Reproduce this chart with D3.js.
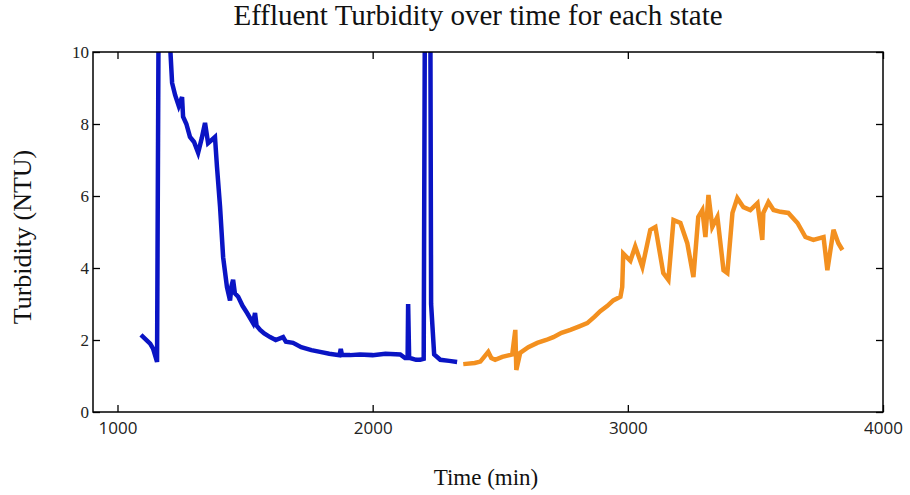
<!DOCTYPE html>
<html><head><meta charset="utf-8">
<script src="https://cdn.jsdelivr.net/npm/d3@7"></script>
<style>body{margin:0;background:#fff;} svg{display:block;}</style>
</head><body>
<script>
const title = "Effluent Turbidity over time for each state";
const xLabel = "Time (min)";
const yLabel = "Turbidity (NTU)";
const xTicks = [1000, 2000, 3000, 4000];
const yTicks = [0, 2, 4, 6, 8, 10];

const blueTime = [1092,1128,1140,1155,1163,1186,1206,1214,1226,1240,1253,1257,1270,1284,1300,1316,1330,1343,1355,1368,1382,1390,1402,1414,1429,1441,1447,1453,1460,1473,1490,1508,1531,1539,1545,1559,1575,1598,1620,1649,1660,1688,1720,1760,1794,1830,1870,1875,1880,1912,1950,2000,2050,2108,2127,2137,2139,2143,2147,2170,2186,2200,2206,2225,2229,2241,2265,2300,2331];
const blueTurb = [2.14,1.9,1.75,1.39,14,14,10.2,9.14,8.8,8.5,8.75,8.2,8.0,7.64,7.5,7.2,7.6,8.03,7.47,7.55,7.64,6.8,5.69,4.3,3.47,3.1,3.5,3.67,3.3,3.2,2.95,2.75,2.47,2.75,2.4,2.28,2.18,2.08,2.0,2.08,1.95,1.92,1.8,1.72,1.67,1.62,1.58,1.75,1.58,1.58,1.6,1.58,1.62,1.6,1.5,1.5,3.0,1.5,1.5,1.45,1.45,1.48,14,14,3.0,1.6,1.45,1.42,1.39];

const orangeTime = [2355,2400,2422,2453,2465,2480,2508,2547,2559,2563,2578,2610,2645,2680,2708,2740,2775,2810,2841,2870,2892,2920,2943,2971,2978,2982,3010,3029,3057,3088,3108,3139,3159,3179,3206,3233,3257,3276,3292,3304,3316,3331,3351,3375,3390,3410,3429,3453,3480,3508,3527,3531,3551,3571,3598,3629,3665,3696,3727,3767,3782,3806,3825,3841];
const orangeTurb = [1.33,1.36,1.4,1.67,1.5,1.45,1.53,1.6,2.28,1.17,1.64,1.8,1.92,2.0,2.08,2.2,2.28,2.38,2.47,2.65,2.8,2.95,3.1,3.2,3.47,4.4,4.2,4.6,4.03,5.06,5.14,3.86,3.67,5.33,5.25,4.69,3.75,5.42,5.61,4.86,6.03,5.14,5.42,3.94,3.86,5.53,5.94,5.69,5.61,5.8,4.78,5.53,5.83,5.61,5.56,5.53,5.25,4.86,4.78,4.86,3.94,5.06,4.69,4.5];

const W = 910, H = 495;
const m = {left: 93, top: 52, right: 883, bottom: 412};
const svg = d3.select("body").append("svg").attr("width", W).attr("height", H);

const x = d3.scaleLinear().domain([904, 4000]).range([m.left, m.right]);
const y = d3.scaleLinear().domain([0, 10]).range([m.bottom, m.top]);

svg.append("defs").append("clipPath").attr("id","clip")
  .append("rect").attr("x", m.left).attr("y", m.top).attr("width", m.right-m.left).attr("height", m.bottom-m.top);

const line = d3.line().x(d => x(d[0])).y(d => y(d[1]));
const g = svg.append("g").attr("clip-path","url(#clip)");
g.append("path").datum(d3.zip(blueTime, blueTurb)).attr("d", line)
  .attr("fill","none").attr("stroke","#0a14c4").attr("stroke-width",4.5).attr("stroke-linejoin","miter");
g.append("path").datum(d3.zip(orangeTime, orangeTurb)).attr("d", line)
  .attr("fill","none").attr("stroke","#f3901f").attr("stroke-width",4.5).attr("stroke-linejoin","miter");

// axes
const tk = 7;
const xb = svg.append("g").attr("transform",`translate(0,${m.bottom})`)
  .call(d3.axisBottom(x).tickValues(xTicks).tickSizeInner(-tk).tickSizeOuter(0).tickPadding(10).tickFormat(d3.format("d")));
const xt = svg.append("g").attr("transform",`translate(0,${m.top})`)
  .call(d3.axisTop(x).tickValues(xTicks).tickSizeInner(-tk).tickSizeOuter(0).tickFormat(""));
const yl = svg.append("g").attr("transform",`translate(${m.left},0)`)
  .call(d3.axisLeft(y).tickValues(yTicks).tickSizeInner(-tk).tickSizeOuter(0).tickPadding(4).tickFormat(d3.format("d")));
const yr = svg.append("g").attr("transform",`translate(${m.right},0)`)
  .call(d3.axisRight(y).tickValues(yTicks).tickSizeInner(-tk).tickSizeOuter(0).tickFormat(""));
[xb,xt,yl,yr].forEach(a => { a.select(".domain").remove(); a.selectAll("line").attr("stroke","#000").attr("stroke-width",1.3); });
xb.selectAll("text").attr("font-family","'Open Sans', sans-serif").attr("font-size",17).attr("fill","#222");
yl.selectAll("text").attr("font-family","'Liberation Serif', serif").attr("font-size",17).attr("fill","#222");

svg.append("rect").attr("x",m.left).attr("y",m.top).attr("width",m.right-m.left).attr("height",m.bottom-m.top)
  .attr("fill","none").attr("stroke","#000").attr("stroke-width",1.5);

svg.append("text").attr("x", 478).attr("y", 25).attr("text-anchor","middle")
  .attr("font-family","'Liberation Serif', serif").attr("font-size",29).attr("fill","#111").text(title);
svg.append("text").attr("x", 486).attr("y", 485).attr("text-anchor","middle")
  .attr("font-family","'Liberation Serif', serif").attr("font-size",23).attr("fill","#111").text(xLabel);
svg.append("text").attr("transform",`translate(31,237) rotate(-90)`).attr("text-anchor","middle")
  .attr("font-family","'Liberation Serif', serif").attr("font-size",26).attr("fill","#111").text(yLabel);
</script>
</body></html>
